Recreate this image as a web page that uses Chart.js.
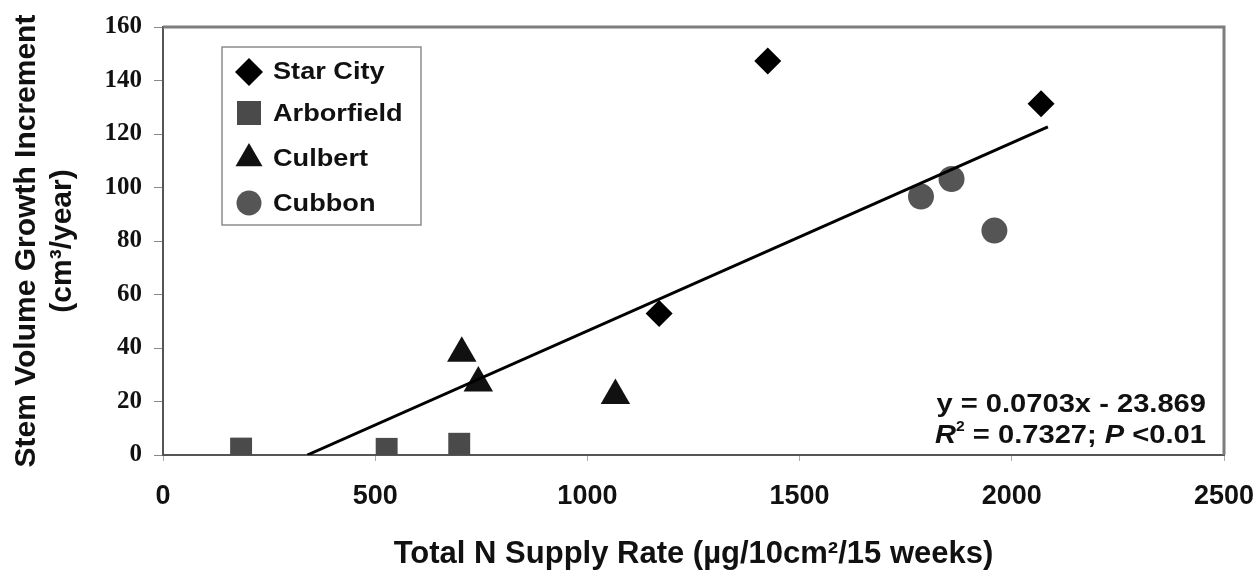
<!DOCTYPE html>
<html>
<head>
<meta charset="utf-8">
<script src="https://cdn.jsdelivr.net/npm/chart.js@4.4.1/dist/chart.umd.min.js"></script>
<style>
    html, body { margin: 0; padding: 0; background: #fff; }
    #wrap { position: relative; width: 1256px; height: 577px; }
</style>
</head>
<body>
<div id="wrap"><canvas id="chart"></canvas></div>
<script>
// Dữ liệu
const seriesNames = ["Star City", "Arborfield", "Culbert", "Cubbon"];

const starCityX = [1169, 1425, 2069];
const starCityY = [52.9, 147.3, 131.3];

const arborfieldX = [184, 527, 698];
const arborfieldY = [2.4, 2.3, 4.2];

const culbertX = [704, 743, 1066];
const culbertY = [38.0, 26.9, 22.2];

const cubbonX = [1786, 1858, 1959];
const cubbonY = [96.6, 103.2, 83.9];

// đường hồi quy y = 0.0703x - 23.869 (hai đầu mút)
const trendX = [340, 2085];
const trendY = [0, 122.7];

const xTicks = [0, 500, 1000, 1500, 2000, 2500];
const yTicks = [0, 20, 40, 60, 80, 100, 120, 140, 160];

const SANS = '"Liberation Sans", Arial, sans-serif';
const SERIF = '"Liberation Serif", "Times New Roman", serif';

function toPoints(xs, ys) {
    return xs.map((x, i) => ({ x: x, y: ys[i] }));
}

// Vẽ ký hiệu cho chú thích
function drawMarker(ctx, style, x, y, r, color) {
    ctx.fillStyle = color;
    ctx.beginPath();
    if (style === "diamond") {
        ctx.moveTo(x, y - r);
        ctx.lineTo(x + r, y);
        ctx.lineTo(x, y + r);
        ctx.lineTo(x - r, y);
    } else if (style === "square") {
        ctx.rect(x - r, y - r, 2 * r, 2 * r);
    } else if (style === "triangle") {
        ctx.moveTo(x, y - r);
        ctx.lineTo(x + r * 0.9, y + r * 0.55);
        ctx.lineTo(x - r * 0.9, y + r * 0.55);
    } else {
        ctx.arc(x, y, r, 0, Math.PI * 2);
    }
    ctx.closePath();
    ctx.fill();
}

// Vẽ các đoạn chữ liền nhau, căn phải, kéo giãn ngang
function drawRuns(ctx, runs, rightX, baseline, sx) {
    let total = 0;
    runs.forEach(r => { ctx.font = r.font; total += ctx.measureText(r.t).width; });
    ctx.save();
    ctx.translate(rightX - total * sx, baseline);
    ctx.scale(sx, 1);
    let cx = 0;
    runs.forEach(r => {
        ctx.font = r.font;
        ctx.fillText(r.t, cx, r.dy || 0);
        cx += ctx.measureText(r.t).width;
    });
    ctx.restore();
}

const extras = {
    id: "extras",
    afterDraw(chart) {
        const ctx = chart.ctx;
        const a = chart.chartArea;

        // khung trên và phải
        ctx.save();
        ctx.strokeStyle = "#7d7d7d";
        ctx.lineWidth = 3;
        ctx.beginPath();
        ctx.moveTo(a.left, a.top);
        ctx.lineTo(a.right, a.top);
        ctx.lineTo(a.right, a.bottom);
        ctx.stroke();
        ctx.restore();

        // chú thích
        ctx.save();
        ctx.fillStyle = "#fff";
        ctx.fillRect(222, 47, 199, 178);
        ctx.strokeStyle = "#8c8c8c";
        ctx.lineWidth = 1.5;
        ctx.strokeRect(222, 47, 199, 178);
        const styles = ["diamond", "square", "triangle", "circle"];
        const colors = ["#000", "#4a4a4a", "#111", "#555"];
        const sizes = [14, 12, 15, 12.5];
        const my = [72, 113, 158, 203];
        const by = [79, 121, 166, 211];
        for (let i = 0; i < seriesNames.length; i++) {
            drawMarker(ctx, styles[i], 249, my[i], sizes[i], colors[i]);
            ctx.fillStyle = "#111";
            ctx.textBaseline = "alphabetic";
            ctx.save();
            ctx.translate(273, by[i]);
            ctx.scale(1.18, 1);
            ctx.font = "bold 23px " + SANS;
            ctx.fillText(seriesNames[i], 0, 0);
            ctx.restore();
        }
        ctx.restore();

        // phương trình hồi quy
        ctx.save();
        ctx.fillStyle = "#111";
        ctx.textBaseline = "alphabetic";
        const f = "bold 26px " + SANS;
        const fi = "italic bold 26px " + SANS;
        const fs = "bold 14px " + SANS;
        drawRuns(ctx, [{ t: "y = 0.0703x - 23.869", font: f }], 1206, 412, 1.12);
        drawRuns(ctx, [
            { t: "R", font: fi },
            { t: "2", font: fs, dy: -12 },
            { t: " = 0.7327; ", font: f },
            { t: "P", font: fi },
            { t: " <0.01", font: f }
        ], 1206, 443, 1.12);
        ctx.restore();
    }
};

const ctx = document.getElementById("chart").getContext("2d");

new Chart(ctx, {
    type: "scatter",
    data: {
        datasets: [
            {
                label: "trend",
                type: "line",
                data: toPoints(trendX, trendY),
                showLine: true,
                borderColor: "#000",
                borderWidth: 3,
                pointRadius: 0,
                fill: false,
                order: 0
            },
            {
                label: seriesNames[0],
                data: toPoints(starCityX, starCityY),
                pointStyle: "rectRot",
                pointRadius: 13.5,
                backgroundColor: "#000",
                borderWidth: 0,
                order: 1
            },
            {
                label: seriesNames[1],
                data: toPoints(arborfieldX, arborfieldY),
                pointStyle: "rect",
                pointRadius: 15.5,
                backgroundColor: "#4a4a4a",
                borderWidth: 0,
                order: 1
            },
            {
                label: seriesNames[2],
                data: toPoints(culbertX, culbertY),
                pointStyle: "triangle",
                pointRadius: 17,
                backgroundColor: "#111",
                borderWidth: 0,
                order: 1
            },
            {
                label: seriesNames[3],
                data: toPoints(cubbonX, cubbonY),
                pointStyle: "circle",
                pointRadius: 13,
                backgroundColor: "#555",
                borderWidth: 0,
                order: 1
            }
        ]
    },
    options: {
        responsive: true,
        maintainAspectRatio: false,
        animation: false,
        layout: { padding: { top: 26, right: 32, left: 0, bottom: 0 } },
        plugins: {
            legend: { display: false },
            tooltip: { enabled: false }
        },
        scales: {
            x: {
                type: "linear",
                min: xTicks[0],
                max: xTicks[xTicks.length - 1],
                afterFit: (scale) => {
                    scale.height = 122;
                    scale.paddingLeft = 0;
                    scale.paddingRight = 0;
                },
                ticks: {
                    stepSize: xTicks[1] - xTicks[0],
                    color: "#111",
                    padding: 19,
                    maxRotation: 0,
                    callback: (v) => String(v),
                    font: { family: SANS, size: 27, weight: "bold" }
                },
                grid: { drawOnChartArea: false, drawTicks: true, tickLength: 6, color: "#aaa", lineWidth: 1 },
                border: { color: "#555", width: 2 },
                title: {
                    display: true,
                    text: "Total N Supply Rate (\u00b5g/10cm\u00b2/15 weeks)",
                    color: "#111",
                    font: { family: SANS, size: 31, weight: "bold", lineHeight: 1.2 },
                    padding: { top: 0, bottom: 4 }
                }
            },
            y: {
                min: yTicks[0],
                max: yTicks[yTicks.length - 1],
                afterFit: (scale) => { scale.width = 163; },
                ticks: {
                    stepSize: yTicks[1] - yTicks[0],
                    color: "#111",
                    padding: 12,
                    font: { family: SERIF, size: 25, weight: "bold" }
                },
                grid: { drawOnChartArea: false, drawTicks: true, tickLength: 9, color: "#888", lineWidth: 1 },
                border: { color: "#555", width: 2 },
                title: {
                    display: true,
                    text: ["Stem Volume Growth Increment", "(cm\u00b3/year)"],
                    color: "#111",
                    font: { family: SANS, size: 30, weight: "bold", lineHeight: 1.2 },
                    padding: { top: 9, bottom: 0 }
                }
            }
        }
    },
    plugins: [extras]
});
</script>
</body>
</html>
